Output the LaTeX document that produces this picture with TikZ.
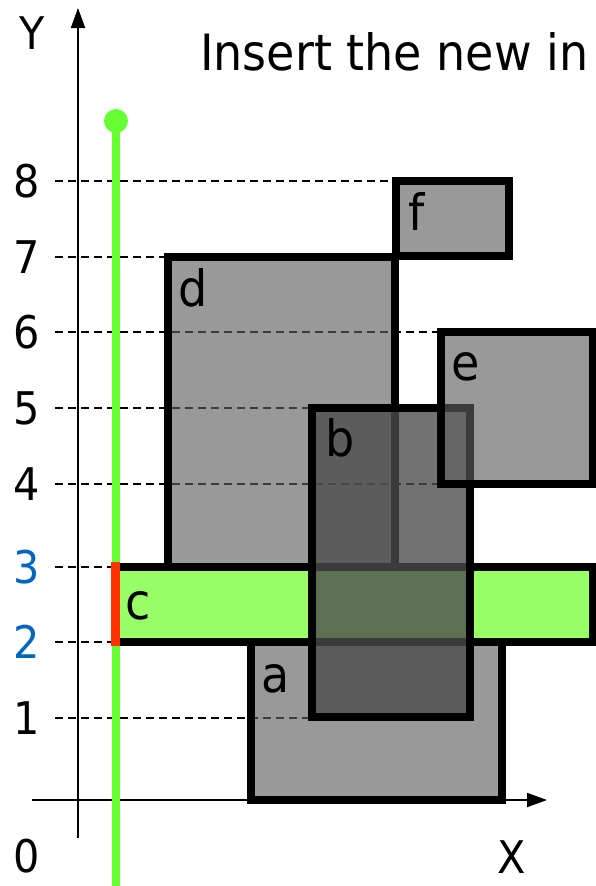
\documentclass[tikz,border=0pt]{standalone}
\usepackage{fontspec}
\setmainfont[FakeStretch=0.92]{DejaVu Sans}
\usetikzlibrary{arrows.meta}
\definecolor{sweepgreen}{RGB}{102,255,51}
\definecolor{hitred}{RGB}{255,51,0}
\definecolor{boxgreen}{RGB}{153,255,102}
\definecolor{ticblue}{RGB}{0,102,187}

\begin{document}
\begin{tikzpicture}[x=1pt, y=-1pt,
    rectbox/.style={draw=black, line width=7.5pt, fill=black!63, fill opacity=0.635},
    guide/.style={line width=1.6pt, dash pattern=on 8pt off 5pt},
    tic/.style={font=\fontsize{45}{50}\selectfont, inner sep=0pt},
    tag/.style={font=\fontsize{50}{56}\selectfont, inner sep=0pt}]
        \useasboundingbox (0,0) rectangle (596,886);
        % dashed guides from the y axis
        \draw[guide] (55,181) -- (396,181);
        \draw[guide] (55,257) -- (168,257);
        \draw[guide] (55,332) -- (441,332);
        \draw[guide] (55,408) -- (312,408);
        \draw[guide] (55,484) -- (441,484);
        \draw[guide] (55,567) -- (112,567);
        \draw[guide] (55,642) -- (112,642);
        \draw[guide] (55,718) -- (312,718);
        % axes
        \draw[line width=2pt, -{Triangle[width=14pt,length=20pt]}] (78,838) -- (78,8);
        \draw[line width=2pt, -{Triangle[width=14pt,length=20pt]}] (32,800) -- (547,800);
        % sweep line
        \draw[sweepgreen, line width=8pt] (116,121) -- (116,890);
        \fill[sweepgreen] (116,121) circle (12);
        % the intervals
        \draw[rectbox] (251,642) rectangle (502,800);
        \draw[rectbox] (168,257) rectangle (395,567);
        \draw[rectbox] (396,181) rectangle (509,256);
        \draw[draw=black, line width=7.5pt, fill=boxgreen] (115,567) rectangle (593,642);
        \draw[rectbox, fill=black!70, fill opacity=0.79] (312,408) rectangle (470,717);
        \draw[rectbox] (441,332) rectangle (593,484);
        \draw[hitred, line width=9pt] (115,562) -- (115,646);
        % labels
        \node[tag] at (276,679) {a};
        \node[tag] at (340,438) {b};
        \node[tag] at (138,606) {c};
        \node[tag] at (193,288) {d};
        \node[tag] at (466,367) {e};
        \node[tag] at (417,212) {f};
        \node[tic] at (32,33) {Y};
        \node[tic] at (512,857) {X};
        \node[tic] at (27,856) {0};
        \node[tic] at (27,718) {1};
        \node[tic, ticblue] at (27,642) {2};
        \node[tic, ticblue] at (27,567) {3};
        \node[tic] at (27,484) {4};
        \node[tic] at (27,408) {5};
        \node[tic] at (27,332) {6};
        \node[tic] at (27,257) {7};
        \node[tic] at (27,181) {8};
        \node[tag, anchor=base west] at (200,70) {Insert the new in};
\end{tikzpicture}
\end{document}
